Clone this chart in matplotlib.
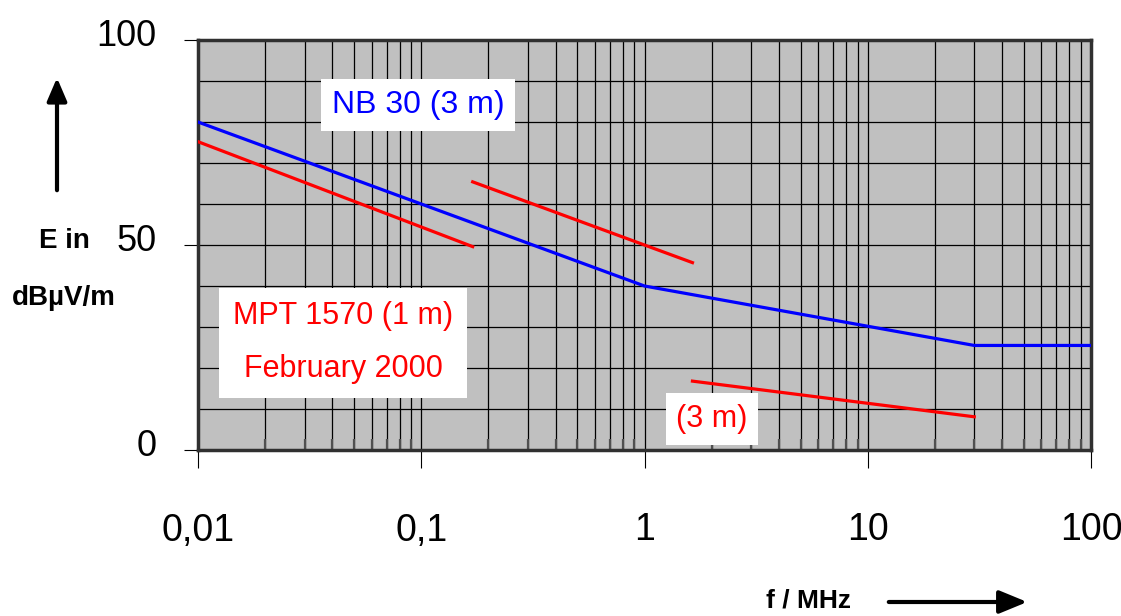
import matplotlib
matplotlib.use('Agg')
import matplotlib.pyplot as plt
import matplotlib.transforms as mtransforms
from matplotlib.ticker import LogLocator, NullFormatter

plt.rcParams['font.family'] = ['Liberation Sans', 'DejaVu Sans']

# NB 30 limit (3 m)
nb30_f = [0.01, 1, 30, 100]
nb30_e = [80, 40, 25.5, 25.5]

# MPT 1570 (1 m), February 2000 - three separate segments
mpt_seg1_f = [0.01, 0.17]
mpt_seg1_e = [75.2, 49.6]
mpt_seg2_f = [0.17, 1.64]
mpt_seg2_e = [65.4, 45.7]
mpt_seg3_f = [1.64, 30]
mpt_seg3_e = [16.8, 8.1]

xticks = [0.01, 0.1, 1, 10, 100]
xlabels = ['0,01', '0,1', '1', '10', '100']
yticks = [0, 50, 100]

W, H = 1121, 616
fig = plt.figure(figsize=(W / 100, H / 100), dpi=100)
ax = fig.add_axes([198 / W, 1 - 450 / H, (1091 - 198) / W, (450 - 40) / H])
ax.set_facecolor('#c0c0c0')

ax.plot(nb30_f, nb30_e, color='#0000ff', lw=2.3, zorder=3)
for f, e in [(mpt_seg1_f, mpt_seg1_e), (mpt_seg2_f, mpt_seg2_e), (mpt_seg3_f, mpt_seg3_e)]:
    ax.plot(f, e, color='#ff0000', lw=2.3, zorder=3)

ax.set_xscale('log')
ax.set_xlim(0.01, 100)
ax.set_ylim(0, 100)
ax.set_xticks(xticks)
ax.set_xticklabels(xlabels)
ax.xaxis.set_minor_locator(LogLocator(base=10, subs=range(2, 10)))
ax.xaxis.set_minor_formatter(NullFormatter())
ax.set_yticks(yticks)
ax.set_yticks(range(0, 101, 10), minor=True)

ax.grid(True, which='both', color='black', lw=0.9, zorder=1)
ax.set_axisbelow(True)

ax.tick_params(axis='y', which='major', length=10, width=0.8, pad=20, labelsize=26)
ax.tick_params(axis='x', which='major', length=13, width=0.8, pad=32, labelsize=27)
ax.tick_params(axis='y', which='minor', length=0)
ax.tick_params(axis='x', which='minor', direction='in', length=8, width=1.6, color='#505050')

for sp in ax.spines.values():
    sp.set_color('#303030')
    sp.set_linewidth(2.5)

# y labels sit slightly above their ticks in the original
off = mtransforms.ScaledTranslation(0, 8 / 100, fig.dpi_scale_trans)
for lbl in ax.get_yticklabels():
    lbl.set_transform(lbl.get_transform() + off)

def fx(px):
    return px / W

def fy(py):
    return 1 - py / H

fig.text(fx(418), fy(105), 'NB 30 (3 m)', color='#0000ff', fontsize=23,
         ha='center', va='center', zorder=5,
         bbox=dict(boxstyle='square,pad=0.35', fc='white', ec='none'))
fig.text(fx(343), fy(343), 'MPT 1570 (1 m)\nFebruary 2000', color='#ff0000', fontsize=22,
         ha='center', va='center', linespacing=2.0, zorder=5,
         bbox=dict(boxstyle='square,pad=0.45', fc='white', ec='none'))
fig.text(fx(712), fy(419), '(3 m)', color='#ff0000', fontsize=22,
         ha='center', va='center', zorder=5,
         bbox=dict(boxstyle='square,pad=0.35', fc='white', ec='none'))

fig.text(fx(64), fy(241), 'E in', fontsize=20, fontweight='bold', ha='center', va='center')
fig.text(fx(64), fy(298), 'dBµV/m', fontsize=20, fontweight='bold', ha='center', va='center')
fig.text(fx(808), fy(601), 'f / MHz', fontsize=19, fontweight='bold', ha='center', va='center')

fig.add_artist(matplotlib.patches.FancyArrowPatch(
    (fx(57), fy(193)), (fx(57), fy(75)), transform=fig.transFigure,
    arrowstyle='-|>,head_length=14,head_width=6', lw=3, color='black', mutation_scale=1))
fig.add_artist(matplotlib.patches.FancyArrowPatch(
    (fx(886), fy(602)), (fx(1030), fy(602)), transform=fig.transFigure,
    arrowstyle='-|>,head_length=17,head_width=7', lw=3, color='black', mutation_scale=1))

fig.savefig('out.png', dpi=100)
